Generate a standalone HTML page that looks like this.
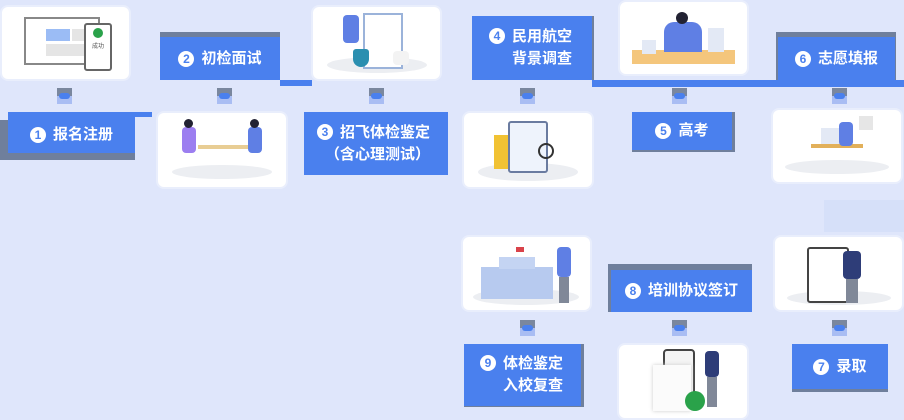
<!DOCTYPE html>
<html><head><meta charset="utf-8"><style>
*{margin:0;padding:0;box-sizing:border-box}
body{width:904px;height:420px;background:#dfe6fb;position:relative;overflow:hidden;font-family:"Liberation Sans","Noto Sans CJK SC",sans-serif}
.a{position:absolute}
.card{position:absolute;background:#fff;border-radius:6px;box-shadow:0 0 0 2px #e9eefc}
.lab{position:absolute;background:#4a80ee;color:#fff;font-weight:bold;font-size:15px;display:flex;align-items:center;justify-content:center;text-align:right;line-height:22px}
.sh{position:absolute;background:#6f7f9c}
.n{display:inline-block;width:16px;height:16px;border-radius:50%;background:#fff;color:#4a80ee;font-size:12px;line-height:16px;text-align:center;margin-right:7px;vertical-align:1px}
.con{position:absolute;width:15px;height:16px;background:linear-gradient(#7a879e 0 50%,#a9bdf3 50%)}
.con:after{content:"";position:absolute;left:2px;top:5px;width:11px;height:6px;border-radius:3px;background:#4a80ee}
.line{position:absolute;background:#4a80ee}
.fl{position:absolute;border-radius:50%;background:#eceef2}
</style></head><body>
<div class="line" style="left:8px;top:112px;width:144px;height:5px"></div>
<div class="line" style="left:280px;top:80px;width:32px;height:6px"></div>
<div class="line" style="left:592px;top:80px;width:312px;height:7px"></div>

<div class="card" style="left:2px;top:7px;width:127px;height:72px">
 <div class="a" style="left:22px;top:10px;width:76px;height:48px;border:2px solid #888;background:#fff"></div>
 <div class="a" style="left:44px;top:22px;width:24px;height:12px;background:#9bbcf5"></div>
 <div class="a" style="left:70px;top:22px;width:20px;height:12px;background:#e5e5e5"></div>
 <div class="a" style="left:44px;top:37px;width:46px;height:12px;background:#e5e5e5"></div>
 <div class="a" style="left:82px;top:16px;width:28px;height:48px;border:2px solid #666;border-radius:3px;background:#fff;font-size:6px;text-align:center;padding-top:16px;color:#555">成功</div>
 <div class="a" style="left:91px;top:21px;width:10px;height:10px;border-radius:50%;background:#2aa24a"></div>
</div>
<div class="card" style="left:158px;top:113px;width:128px;height:74px">
 <div class="fl" style="left:14px;top:52px;width:100px;height:14px"></div>
 <div class="a" style="left:40px;top:32px;width:50px;height:4px;background:#e8cd94"></div>
 <div class="a" style="left:24px;top:14px;width:14px;height:26px;background:#9c7ef0;border-radius:4px"></div>
 <div class="a" style="left:90px;top:14px;width:14px;height:26px;background:#5f7fe4;border-radius:4px"></div>
 <div class="a" style="left:26px;top:6px;width:9px;height:9px;border-radius:50%;background:#223"></div>
 <div class="a" style="left:92px;top:6px;width:9px;height:9px;border-radius:50%;background:#223"></div>
</div>
<div class="card" style="left:313px;top:7px;width:127px;height:72px">
 <div class="fl" style="left:14px;top:50px;width:100px;height:16px"></div>
 <div class="a" style="left:50px;top:6px;width:40px;height:56px;border:2px solid #9bb3da;background:#fff"></div>
 <div class="a" style="left:30px;top:8px;width:16px;height:28px;background:#5f7fe4;border-radius:4px"></div>
 <div class="a" style="left:40px;top:42px;width:16px;height:18px;background:#2b8fb0;border-radius:3px 3px 8px 8px"></div>
 <div class="a" style="left:80px;top:44px;width:16px;height:14px;background:#f3f3f3;border-radius:4px"></div>
</div>
<div class="card" style="left:464px;top:113px;width:128px;height:74px">
 <div class="fl" style="left:14px;top:50px;width:100px;height:18px"></div>
 <div class="a" style="left:30px;top:22px;width:20px;height:34px;background:#f1c233"></div>
 <div class="a" style="left:44px;top:8px;width:40px;height:52px;background:#eef3fc;border:2px solid #6a7ba0;border-radius:3px"></div>
 <div class="a" style="left:74px;top:30px;width:16px;height:16px;border:2px solid #333;border-radius:50%"></div>
</div>
<div class="card" style="left:620px;top:2px;width:127px;height:72px">
 <div class="a" style="left:12px;top:48px;width:103px;height:14px;background:#f4c67c"></div>
 <div class="a" style="left:44px;top:20px;width:38px;height:30px;background:#5f7fe4;border-radius:10px 10px 0 0"></div>
 <div class="a" style="left:56px;top:10px;width:12px;height:12px;border-radius:50%;background:#223"></div>
 <div class="a" style="left:88px;top:26px;width:16px;height:24px;background:#e3e9f5"></div>
 <div class="a" style="left:22px;top:38px;width:14px;height:14px;background:#e3e9f5"></div>
</div>
<div class="card" style="left:773px;top:110px;width:128px;height:72px">
 <div class="fl" style="left:12px;top:50px;width:104px;height:14px"></div>
 <div class="a" style="left:38px;top:34px;width:52px;height:4px;background:#e2b05a"></div>
 <div class="a" style="left:48px;top:18px;width:22px;height:16px;background:#e3e9f5"></div>
 <div class="a" style="left:66px;top:12px;width:14px;height:24px;background:#5f7fe4;border-radius:4px"></div>
 <div class="a" style="left:86px;top:6px;width:14px;height:14px;background:#e6e6e6"></div>
</div>
<div class="a" style="left:824px;top:200px;width:80px;height:32px;background:#d6e0f9"></div>

<div class="card" style="left:463px;top:237px;width:127px;height:73px">
 <div class="fl" style="left:10px;top:52px;width:106px;height:16px"></div>
 <div class="a" style="left:18px;top:30px;width:72px;height:32px;background:#b7caef"></div>
 <div class="a" style="left:36px;top:20px;width:36px;height:12px;background:#c4d4f3"></div>
 <div class="a" style="left:53px;top:10px;width:8px;height:5px;background:#d9434a"></div>
 <div class="a" style="left:94px;top:10px;width:14px;height:30px;background:#5f7fe4;border-radius:4px"></div>
 <div class="a" style="left:96px;top:40px;width:10px;height:26px;background:#808898"></div>
</div>
<div class="card" style="left:619px;top:345px;width:128px;height:73px">
 <div class="a" style="left:44px;top:4px;width:32px;height:58px;border:2px solid #444;border-radius:4px;background:#f4f4f4"></div>
 <div class="a" style="left:34px;top:20px;width:38px;height:46px;background:#fbfbfb;box-shadow:0 0 4px #ccc"></div>
 <div class="a" style="left:66px;top:46px;width:20px;height:20px;border-radius:50%;background:#2aa24a"></div>
 <div class="a" style="left:86px;top:6px;width:14px;height:26px;background:#2e3d78;border-radius:4px"></div>
 <div class="a" style="left:88px;top:32px;width:10px;height:30px;background:#808898"></div>
</div>
<div class="card" style="left:775px;top:237px;width:127px;height:73px">
 <div class="fl" style="left:12px;top:54px;width:104px;height:14px"></div>
 <div class="a" style="left:32px;top:10px;width:42px;height:56px;border:2px solid #444;border-radius:3px;background:#fff"></div>
 <div class="a" style="left:68px;top:14px;width:18px;height:28px;background:#2e3d78;border-radius:4px"></div>
 <div class="a" style="left:71px;top:42px;width:12px;height:24px;background:#808898"></div>
</div>

<div class="sh" style="left:0;top:120px;width:135px;height:40px"></div>
<div class="lab" style="left:8px;top:117px;width:127px;height:36px"><span class="n">1</span>报名注册</div>

<div class="sh" style="left:160px;top:32px;width:120px;height:48px"></div>
<div class="lab" style="left:160px;top:37px;width:120px;height:43px"><span class="n">2</span>初检面试</div>

<div class="lab" style="left:304px;top:112px;width:144px;height:63px;flex-direction:column;align-items:flex-end;padding-right:18px"><div><span class="n">3</span>招飞体检鉴定</div><div>（含心理测试）</div></div>

<div class="sh" style="left:472px;top:16px;width:122px;height:64px"></div>
<div class="lab" style="left:472px;top:16px;width:120px;height:64px;flex-direction:column;align-items:flex-end;padding-right:20px"><div><span class="n">4</span>民用航空</div><div>背景调查</div></div>

<div class="sh" style="left:632px;top:112px;width:103px;height:40px"></div>
<div class="lab" style="left:632px;top:112px;width:100px;height:38px"><span class="n">5</span>高考</div>

<div class="sh" style="left:776px;top:32px;width:120px;height:48px"></div>
<div class="lab" style="left:778px;top:37px;width:117px;height:43px"><span class="n">6</span>志愿填报</div>

<div class="sh" style="left:464px;top:344px;width:120px;height:63px"></div>
<div class="lab" style="left:464px;top:344px;width:117px;height:62px;flex-direction:column;align-items:flex-end;padding-right:18px"><div><span class="n">9</span>体检鉴定</div><div>入校复查</div></div>

<div class="sh" style="left:608px;top:264px;width:144px;height:48px"></div>
<div class="lab" style="left:611px;top:270px;width:141px;height:42px"><span class="n">8</span>培训协议签订</div>

<div class="sh" style="left:792px;top:344px;width:96px;height:48px"></div>
<div class="lab" style="left:792px;top:344px;width:96px;height:45px"><span class="n">7</span>录取</div>

<div class="con" style="left:57px;top:88px"></div>
<div class="con" style="left:217px;top:88px"></div>
<div class="con" style="left:369px;top:88px"></div>
<div class="con" style="left:520px;top:88px"></div>
<div class="con" style="left:672px;top:88px"></div>
<div class="con" style="left:832px;top:88px"></div>
<div class="con" style="left:520px;top:320px"></div>
<div class="con" style="left:672px;top:320px"></div>
<div class="con" style="left:832px;top:320px"></div>
</body></html>
